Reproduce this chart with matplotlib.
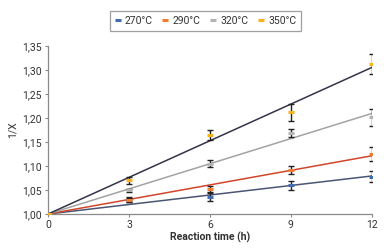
import numpy as np
import matplotlib
matplotlib.use('Agg')
import matplotlib.pyplot as plt

plt.rcParams['font.family'] = ['Roboto', 'DejaVu Sans']

# data
time_h = [0, 3, 6, 9, 12]
labels = ['270°C', '290°C', '320°C', '350°C']
inv_x = {
    '270°C': [1.000, 1.030, 1.036, 1.060, 1.078],
    '290°C': [1.000, 1.029, 1.052, 1.092, 1.125],
    '320°C': [1.000, 1.049, 1.105, 1.169, 1.201],
    '350°C': [1.000, 1.070, 1.165, 1.212, 1.313],
}
err = {
    '270°C': [0, 0.005, 0.008, 0.009, 0.012],
    '290°C': [0, 0.005, 0.006, 0.008, 0.014],
    '320°C': [0, 0.004, 0.008, 0.008, 0.017],
    '350°C': [0, 0.008, 0.010, 0.018, 0.021],
}
marker_colors = ['#3f6db0', '#f07c2c', '#b3b3b3', '#f8b21c']
line_colors = ['#4a5573', '#d2452c', '#a3a3a3', '#33334a']

fig = plt.figure(figsize=(3.92, 2.48), dpi=100)
ax = fig.add_axes([0.1225, 0.137, 0.826, 0.678])

t = np.array(time_h, dtype=float)
t_fit = np.array([0, 12])
for lab, mc, lc in zip(labels, marker_colors, line_colors):
    y = np.array(inv_x[lab])
    # linear fit forced through (0, 1)
    k = np.sum(t * (y - 1)) / np.sum(t ** 2)
    ax.plot(t_fit, 1 + k * t_fit, color=lc, lw=1.1, zorder=2)
    ax.errorbar(t[1:], y[1:], yerr=err[lab][1:], fmt='none', ecolor='#222222',
                elinewidth=1.0, capsize=2.5, capthick=1.0, zorder=3)
    ax.plot(t, y, ls='none', marker='_', ms=4.5, mew=2.2, color=mc, zorder=4,
            label=lab)

ax.set_xlim(0, 12)
ax.set_ylim(1.0, 1.35)
ax.set_xticks(time_h)
yt = np.arange(1.0, 1.351, 0.05)
ax.set_yticks(yt)
ax.set_yticklabels([f'{v:.2f}'.replace('.', ',') for v in yt])
ax.tick_params(labelsize=7.5, colors='#333333', length=2.5, width=0.8,
               pad=2, color='#888888')
ax.spines['top'].set_visible(False)
ax.spines['right'].set_visible(False)
for s in ['left', 'bottom']:
    ax.spines[s].set_color('#8a8a8a')
    ax.spines[s].set_linewidth(0.9)
ax.set_xlabel('Reaction time (h)', fontsize=7.5, fontweight='bold',
              color='#333333', labelpad=1)
ax.set_ylabel('1/X', fontsize=7.5, color='#333333', labelpad=3)

handles, hlabels = ax.get_legend_handles_labels()
leg = fig.legend(handles, hlabels, loc='upper center',
                 bbox_to_anchor=(0.524, 0.975), ncol=4, fontsize=7.5,
                 frameon=True, fancybox=False, handlelength=0.6,
                 handletextpad=0.4, columnspacing=0.9, borderpad=0.45,
                 edgecolor='#888888')
leg.get_frame().set_linewidth(0.9)
for txt in leg.get_texts():
    txt.set_color('#333333')

fig.savefig('out.png', dpi=100)
